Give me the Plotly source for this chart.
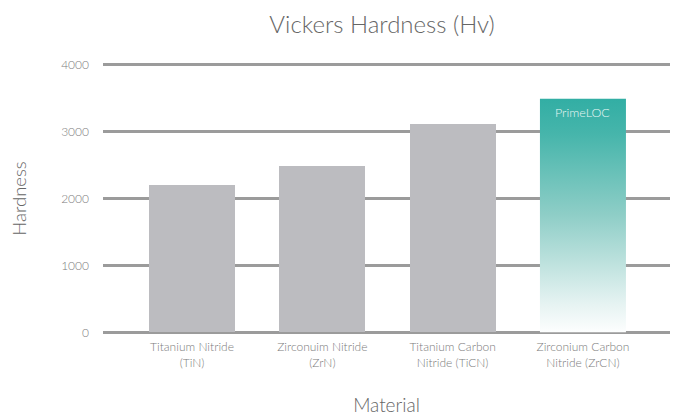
import plotly.graph_objects as go

categories = ["Titanium Nitride<br>(TiN)", "Zirconuim Nitride<br>(ZrN)",
              "Titanium Carbon<br>Nitride (TiCN)", "Zirconium Carbon<br>Nitride (ZrCN)"]
hardness = [2200, 2480, 3110, 3490]
highlight_label = "PrimeLOC"
y_ticks = [0, 1000, 2000, 3000, 4000]

bar_w = 0.66
idx = list(range(len(categories)))
fig = go.Figure()

fig.add_trace(go.Bar(x=idx[:-1], y=hardness[:-1], width=bar_w,
                     marker=dict(color="#bcbcc0", line=dict(width=0)),
                     hoverinfo="skip", showlegend=False))

i = idx[-1]
v = hardness[-1]
xs = [i - bar_w / 2, i + bar_w / 2, i + bar_w / 2, i - bar_w / 2, i - bar_w / 2]
ys = [0, 0, v, v, 0]
fig.add_trace(go.Scatter(x=xs, y=ys, mode="lines", fill="toself",
                         line=dict(width=0, color="rgba(0,0,0,0)"),
                         fillgradient=dict(type="vertical", start=0, stop=v,
                                           colorscale=[[0, "#fdfefe"], [0.12, "#e6f3f2"],
                                                       [0.5, "#8fcec7"], [0.85, "#46b5ab"],
                                                       [1, "#32aea4"]]),
                         hoverinfo="skip", showlegend=False))

font_family = "Lato, 'Open Sans', sans-serif"
fig.add_annotation(x=i, y=v - 70, text=highlight_label, showarrow=False,
                   yanchor="top", font=dict(color="#eaf7f5", size=12.5, weight=300))

tick_color = "#7c7c7c"
title_color = "#666666"
fig.update_layout(
    width=675, height=416,
    margin=dict(l=103, r=5, t=62, b=81),
    paper_bgcolor="white", plot_bgcolor="white",
    font=dict(family=font_family, color=tick_color, size=12, weight=300),
    title=dict(text="Vickers Hardness (Hv)", x=382 / 675, xanchor="center",
               y=1 - 25 / 416, yanchor="middle",
               font=dict(size=24, color=title_color, family=font_family, weight=300)),
    xaxis=dict(range=[-0.683, 3.668], tickvals=idx, ticktext=categories,
               showgrid=False, zeroline=False, showline=False, ticks="",
               automargin=False, ticklabelstandoff=3,
               tickfont=dict(size=12, color=tick_color, weight=300),
               title=dict(text="Material", font=dict(size=19, color=title_color, weight=300),
                          standoff=33)),
    yaxis=dict(range=[-40, 4040], tickvals=y_ticks, showgrid=True,
               gridcolor="#9b9b9b", gridwidth=3, zeroline=False, showline=False,
               ticks="", ticklabelstandoff=13, automargin=False,
               tickfont=dict(size=12, color=tick_color, weight=300),
               title=dict(text="Hardness", font=dict(size=18.5, color=title_color, weight=300),
                          standoff=29)),
    bargap=0,
)

fig.write_html("out.html", config={"displayModeBar": False},
               post_script="document.body.style.margin='0';")
